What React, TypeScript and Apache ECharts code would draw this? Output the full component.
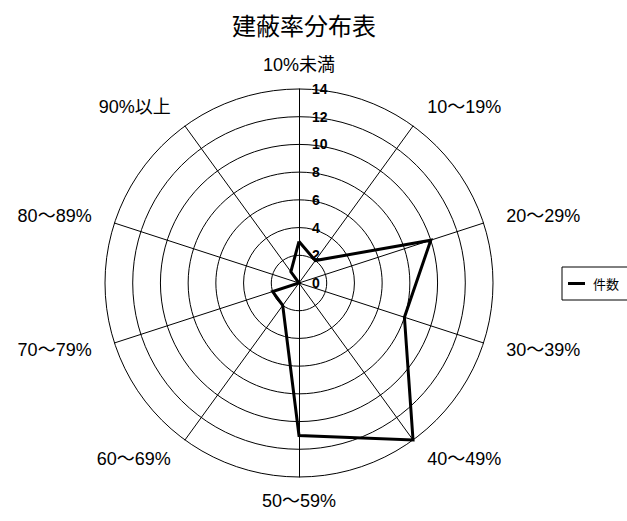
import React, { useEffect, useRef } from "react";
import * as echarts from "echarts";

const title = "建蔽率分布表";
const categories = [
  "10%未満",
  "10～19%",
  "20～29%",
  "30～39%",
  "40～49%",
  "50～59%",
  "60～69%",
  "70～79%",
  "80～89%",
  "90%以上",
];
const seriesName = "件数";
const counts = [3, 2, 10, 8, 14, 11, 2, 2, 0, 1];
const axisMin = 0;
const axisMax = 14;
const axisSplits = 7;

// ECharts radar runs counter-clockwise; reorder so the categories read clockwise.
const order = categories.map((_, i) => (i === 0 ? 0 : categories.length - i));

export default function App() {
  const ref = useRef<HTMLDivElement>(null);
  useEffect(() => {
    if (!ref.current) return;
    const chart = echarts.init(ref.current, null, { renderer: "svg" });
    const cjk = "'Liberation Sans', 'Noto Sans CJK JP', sans-serif";
    const numLabel = {
      show: true,
      color: "#000",
      fontWeight: "bold",
      fontSize: 14,
      fontFamily: "'Liberation Sans', Arial, sans-serif",
      margin: -13,
      align: "left",
    };
    chart.setOption({
      animation: false,
      backgroundColor: "#fff",
      title: {
        text: title,
        left: 299,
        textAlign: "center",
        top: 7,
        textStyle: { fontFamily: "'Noto Sans CJK JP', sans-serif", fontSize: 24, fontWeight: "normal", color: "#000" },
      },
      legend: {
        left: 562,
        top: 267,
        orient: "vertical",
        data: [{ name: seriesName, icon: "rect" }],
        itemWidth: 17,
        itemHeight: 3,
        padding: [10, 14, 10, 6],
        borderColor: "#000",
        borderWidth: 1,
        textStyle: { fontFamily: "'Noto Sans CJK JP', sans-serif", fontSize: 13, color: "#000", padding: [0, 0, 0, 3] },
      },
      radar: {
        center: [299, 283],
        radius: 194,
        shape: "circle",
        splitNumber: axisSplits,
        startAngle: 90,
        nameGap: 24,
        axisName: {
          color: "#000",
          fontFamily: cjk,
          fontSize: 18,
          verticalAlign: "middle",
        },
        indicator: order.map((k, i) =>
          i === 0
            ? { name: categories[k], min: axisMin, max: axisMax, axisLabel: numLabel }
            : { name: categories[k], min: axisMin, max: axisMax }
        ),
        axisLine: { lineStyle: { color: "#000", width: 1 } },
        splitLine: { lineStyle: { color: "#000", width: 1 } },
        splitArea: { show: false },
        axisTick: { show: false },
        axisLabel: { show: false },
      },
      series: [
        {
          type: "radar",
          name: seriesName,
          color: "#000",
          symbol: "none",
          lineStyle: { color: "#000", width: 3, join: "miter" },
          data: [{ name: seriesName, value: order.map((k) => counts[k]) }],
        },
      ],
    });
    return () => chart.dispose();
  }, []);
  return (
    <div
      ref={ref}
      style={{ position: "fixed", left: 0, top: 0, width: 627, height: 521 }}
    />
  );
}
